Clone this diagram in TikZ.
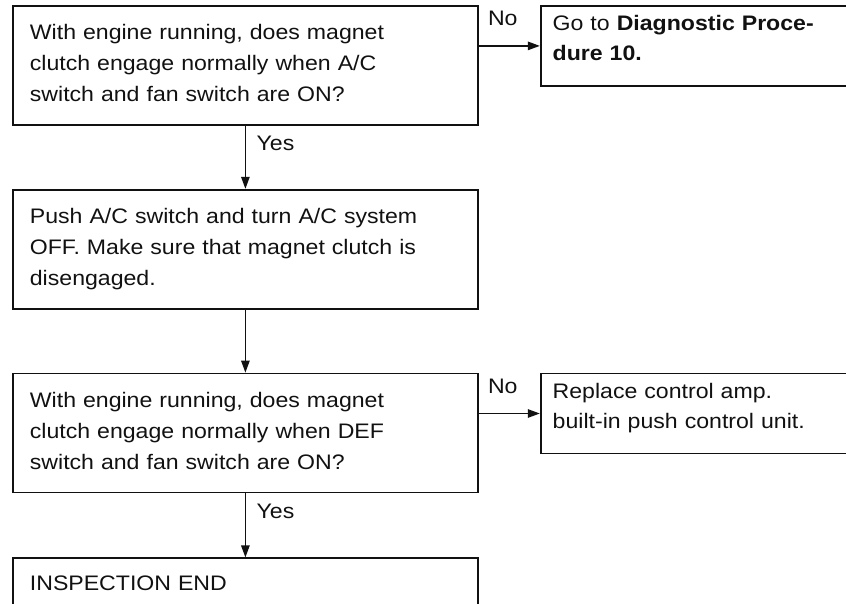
\documentclass[tikz,border=0pt]{standalone}
\usepackage{fontspec}
\setmainfont{Liberation Sans}[FakeStretch=1.1]
\usetikzlibrary{arrows.meta,positioning,calc}
\definecolor{ink}{HTML}{111111}
\tikzset{
  arr/.style={-{Triangle[length=12pt,width=8.5pt]}, line width=1.3pt, draw=ink},
  figbase/.style={
    font=\fontsize{21}{31}\selectfont,
    color=ink,
    x=1pt, y=-1pt,
  },
  box/.style={
    draw=ink, line width=1.8pt,
    align=left,
    inner ysep=0pt,
    text=ink,
  },
  stepbox/.style={box, inner xsep=17pt, text width=431pt, text height=34pt, text depth=85pt},
  sidebox/.style={box, inner xsep=12pt, text width=296pt, text height=25pt, text depth=55pt,
    font=\fontsize{21}{30}\selectfont},
  endbox/.style={box, inner xsep=17pt, text width=431pt, text height=32pt, text depth=60pt},
  lab/.style={font=\fontsize{21}{22}\selectfont, text=ink, inner sep=1pt},
}
\begin{document}
\begin{tikzpicture}[figbase]
  \useasboundingbox (0,0) rectangle (846,604);
  \node[stepbox, anchor=north west] (q1) at (12,5)
    {With engine running, does magnet\\clutch engage normally when A/C\\switch and fan switch are ON?};
  \node[sidebox, right=61pt of q1.north east, anchor=north west] (goto)
    {Go to \textbf{Diagnostic Proce-}\\\textbf{dure 10.}};
  \node[stepbox, below=63pt of q1] (push)
    {Push A/C switch and turn A/C system\\OFF. Make sure that magnet clutch is\\disengaged.};
  \node[stepbox, below=63pt of push] (q2)
    {With engine running, does magnet\\clutch engage normally when DEF\\switch and fan switch are ON?};
  \node[sidebox, right=61pt of q2.north east, anchor=north west] (repl)
    {Replace control amp.\\built-in push control unit.};
  \node[endbox, below=64pt of q2] (done) {INSPECTION END};

  % connectors
  \draw[arr] (q1) -- (push);
  \draw[arr] (push) -- (q2);
  \draw[arr] (q2) -- (done);
  \draw[arr] (q1.east |- goto.west) -- (goto.west);
  \draw[arr] (q2.east |- repl.west) -- (repl.west);

  % branch labels
  \node[lab, below right=9pt and 10pt of q1.south] (yes1) {Yes};
  \node[lab, below right=9pt and 10pt of q2.south] (yes2) {Yes};
  \node[lab, below right=5pt and 8pt of q1.north east] (no1) {No};
  \node[lab, below right=5pt and 8pt of q2.north east] (no2) {No};
\end{tikzpicture}
\end{document}
